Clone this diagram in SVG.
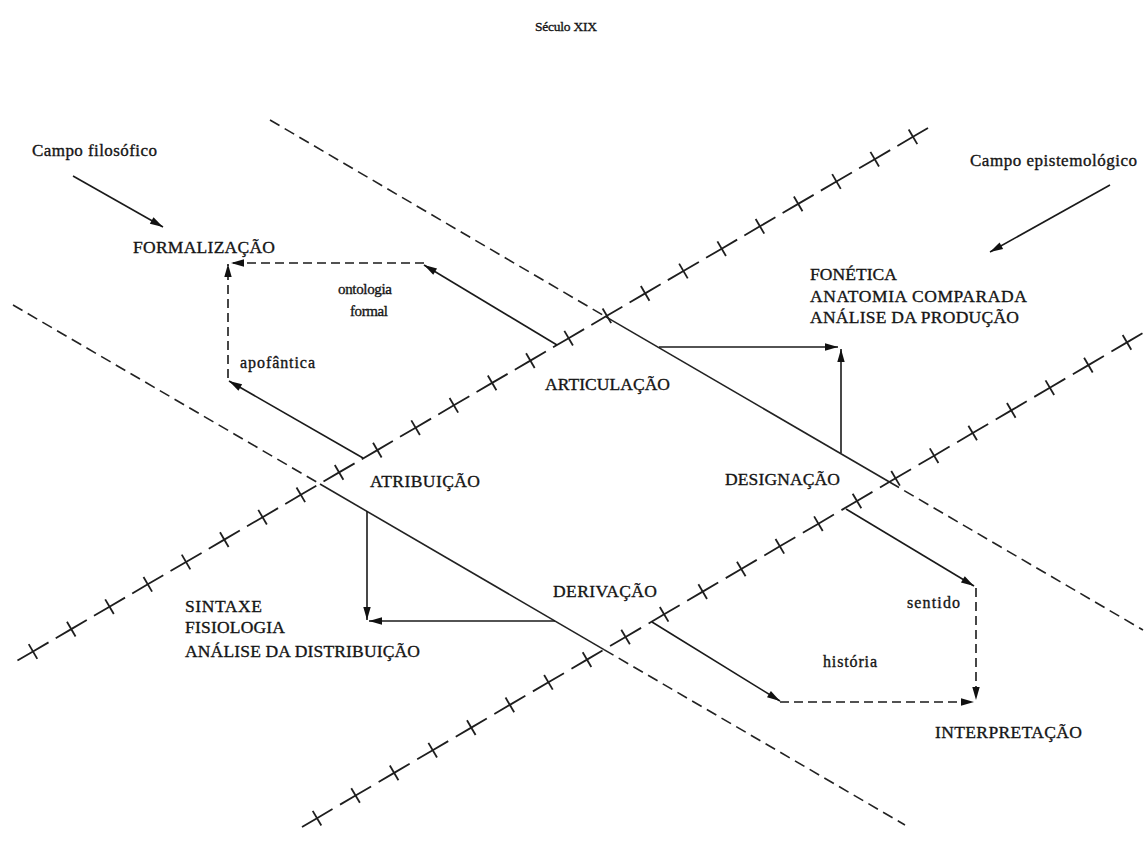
<svg xmlns="http://www.w3.org/2000/svg" width="1144" height="845" viewBox="0 0 1144 845">
<style>
.bg{fill:#ffffff}
.t{font-family:"Liberation Serif","Times New Roman",serif;fill:#151515;stroke:#151515;stroke-width:0.35}
.cap{font-size:17.5px}
.low{font-size:16px}
.fld{font-size:17px}
.tickline{fill:none;stroke:#1e1e1e;stroke-width:1.8}
.axis{fill:none;stroke:#222;stroke-width:1.6}
.dash{stroke-dasharray:11 6}
.conn{fill:none;stroke:#1a1a1a;stroke-width:1.6}
.cdash{stroke-dasharray:9 5}
</style>
<defs>
<marker id="tick" markerUnits="userSpaceOnUse" markerWidth="20" markerHeight="20" refX="10" refY="10" orient="auto" overflow="visible">
<line x1="10" y1="1.5" x2="10" y2="18.5" stroke="#1e1e1e" stroke-width="1.8"/>
</marker>
<marker id="arr" markerUnits="userSpaceOnUse" markerWidth="14" markerHeight="10" refX="13" refY="4" orient="auto" overflow="visible">
<path d="M0,0.3 L13,4 L0,7.7 z" fill="#111"/>
</marker>
</defs>
<rect class="bg" x="0" y="0" width="1144" height="845"/>

<g id="axes">
<polyline id="axis-a" class="tickline" stroke-dasharray="36 8.32" stroke-dashoffset="41.47" marker-mid="url(#tick)" points="15,662 33,651.5 71.26,629.1 109.52,606.7 147.78,584.3 186.04,562 224.3,539.6 262.56,517.2 300.82,494.8 339.08,472.4 377.34,450.1 415.6,427.7 453.86,405.3 492.12,382.9 530.38,360.6 568.64,338.2 606.9,315.8 645.16,293.4 683.42,271 721.68,248.7 759.94,226.3 798.2,203.9 836.46,181.5 874.72,159.2 912.98,136.8 928,128"/>
<polyline id="axis-b" class="tickline" stroke-dasharray="36 8.73" stroke-dashoffset="0.6" marker-mid="url(#tick)" points="302,827 317,818.2 355.57,795.5 394.14,772.9 432.71,750.2 471.28,727.6 509.85,704.9 548.42,682.3 586.99,659.6 625.56,637 664.13,614.3 702.7,591.6 741.27,569 779.84,546.3 818.41,523.7 856.98,501 895.55,478.3 934.12,455.7 972.69,433 1011.26,410.4 1049.83,387.7 1088.4,365.1 1126.97,342.4 1143,333"/>
<line class="axis dash" x1="270" y1="120" x2="606" y2="316.9"/>
<line class="axis" x1="606" y1="316.9" x2="889.5" y2="482"/>
<line class="axis dash" x1="889.5" y1="482" x2="1143" y2="630"/>
<line class="axis dash" x1="13" y1="305" x2="320" y2="484"/>
<line class="axis" x1="320" y1="484" x2="604" y2="649.6"/>
<line class="axis dash" x1="604" y1="649.6" x2="905" y2="825"/>
</g>

<g id="connectors">
<line class="conn" x1="73" y1="176" x2="163" y2="227" marker-end="url(#arr)"/>
<line class="conn" x1="1110" y1="185" x2="990" y2="252" marker-end="url(#arr)"/>
<line class="conn" x1="363" y1="458" x2="229" y2="381" marker-end="url(#arr)"/>
<line class="conn cdash" x1="228" y1="378" x2="228" y2="264" marker-end="url(#arr)"/>
<line class="conn" x1="557" y1="345" x2="424" y2="265" marker-end="url(#arr)"/>
<line class="conn cdash" x1="424" y1="263" x2="231" y2="263" marker-end="url(#arr)"/>
<line class="conn" x1="659" y1="347" x2="838" y2="347" marker-end="url(#arr)"/>
<line class="conn" x1="841" y1="453" x2="841" y2="349" marker-end="url(#arr)"/>
<line class="conn" x1="367" y1="511" x2="367" y2="620" marker-end="url(#arr)"/>
<line class="conn" x1="555" y1="621" x2="369" y2="621" marker-end="url(#arr)"/>
<line class="conn" x1="846" y1="509" x2="974" y2="586" marker-end="url(#arr)"/>
<line class="conn cdash" x1="976" y1="588" x2="976" y2="700" marker-end="url(#arr)"/>
<line class="conn" x1="652" y1="622" x2="780" y2="701" marker-end="url(#arr)"/>
<line class="conn cdash" x1="780" y1="702" x2="974" y2="702" marker-end="url(#arr)"/>
</g>

<g id="title"><text class="t" x="535" y="31" font-size="13.5" textLength="62">Século XIX</text></g>
<g id="campo-filosofico"><text class="t fld" x="32" y="156" textLength="125">Campo filosófico</text></g>
<g id="campo-epistemologico"><text class="t fld" x="970" y="166" textLength="167">Campo epistemológico</text></g>
<g id="formalizacao"><text class="t cap" x="133" y="253" textLength="142">FORMALIZAÇÃO</text></g>
<g id="ontologia-formal">
<text class="t" x="338" y="294" font-size="15" textLength="54">ontologia</text>
<text class="t" x="350" y="316" font-size="15" textLength="38">formal</text>
</g>
<g id="apofantica"><text class="t low" x="240" y="368" textLength="75">apofântica</text></g>
<g id="articulacao"><text class="t cap" x="545" y="390" textLength="125">ARTICULAÇÃO</text></g>
<g id="atribuicao"><text class="t cap" x="370" y="487" textLength="110">ATRIBUIÇÃO</text></g>
<g id="designacao"><text class="t cap" x="725" y="485" textLength="115">DESIGNAÇÃO</text></g>
<g id="derivacao"><text class="t cap" x="553" y="597" textLength="104">DERIVAÇÃO</text></g>
<g id="fonetica">
<text class="t cap" x="810" y="280" textLength="87">FONÉTICA</text>
<text class="t cap" x="810" y="302" textLength="217">ANATOMIA COMPARADA</text>
<text class="t cap" x="810" y="323" textLength="209">ANÁLISE DA PRODUÇÃO</text>
</g>
<g id="sintaxe">
<text class="t cap" x="185" y="612" textLength="77">SINTAXE</text>
<text class="t cap" x="185" y="633" textLength="100">FISIOLOGIA</text>
<text class="t cap" x="185" y="657" textLength="235">ANÁLISE DA DISTRIBUIÇÃO</text>
</g>
<g id="sentido"><text class="t low" x="907" y="608" textLength="53">sentido</text></g>
<g id="historia"><text class="t low" x="823" y="667" textLength="54">história</text></g>
<g id="interpretacao"><text class="t cap" x="935" y="738" textLength="147">INTERPRETAÇÃO</text></g>
</svg>
